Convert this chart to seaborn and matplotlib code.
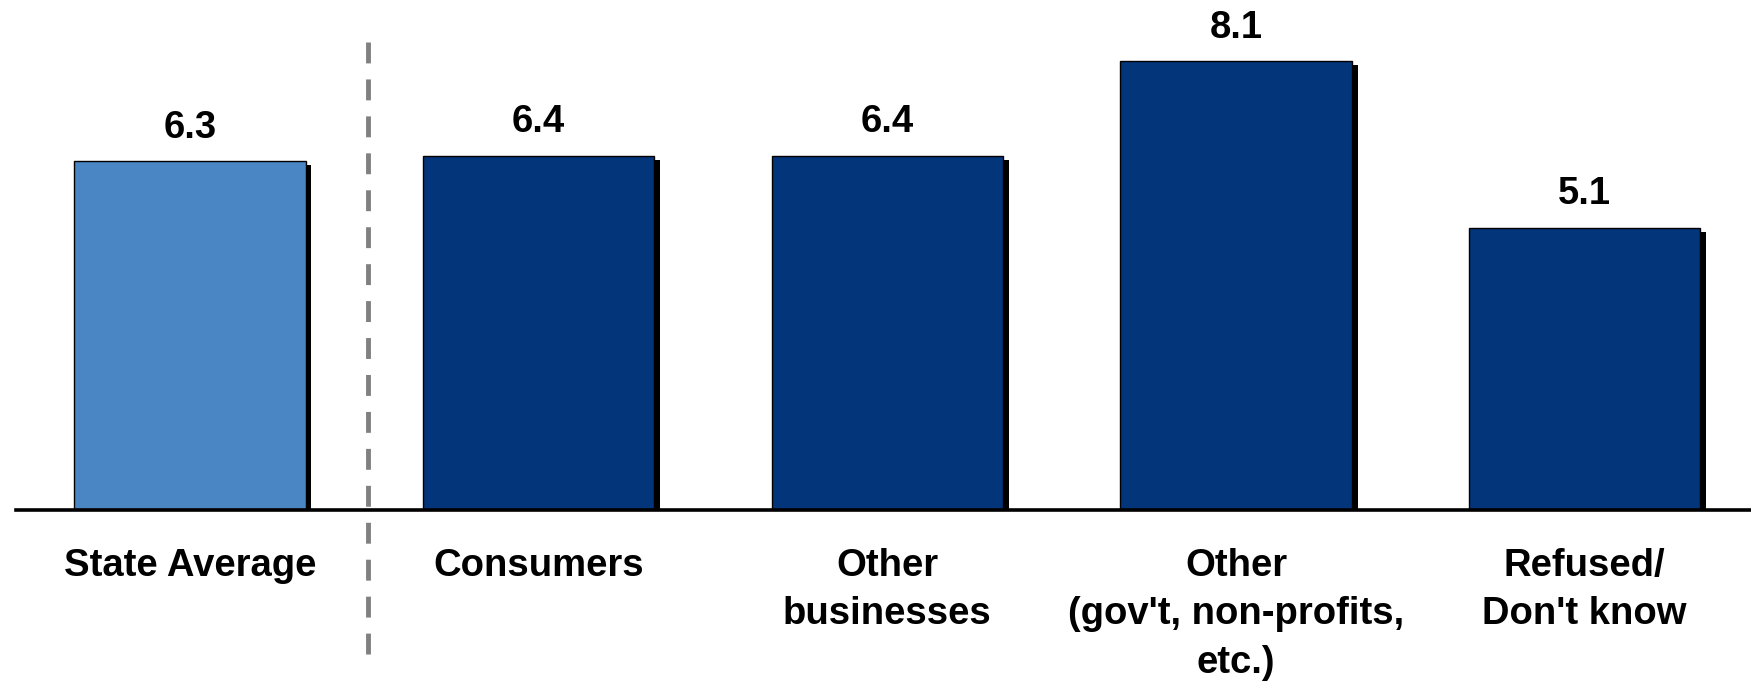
import matplotlib
matplotlib.use("Agg")
import matplotlib.pyplot as plt
import matplotlib.patheffects as pe
import seaborn as sns

categories = ["State Average", "Consumers", "Other\nbusinesses",
              "Other\n(gov't, non-profits,\netc.)", "Refused/\nDon't know"]
values = [6.3, 6.4, 6.4, 8.1, 5.1]
value_labels = ["6.3", "6.4", "6.4", "8.1", "5.1"]
bar_colors = ["#4a85c4", "#03357a", "#03357a", "#03357a", "#03357a"]

sns.set_theme(style="white")
plt.rcParams["font.family"] = ["Liberation Sans", "DejaVu Sans"]
plt.rcParams["font.weight"] = "bold"

fig = plt.figure(figsize=(17.51, 6.81), dpi=100)
ax = fig.add_axes([0.0089, 0.251, 0.9911, 0.732])

sns.barplot(x=categories, y=values, hue=categories, palette=bar_colors,
            width=0.663, edgecolor="black", linewidth=1.0, legend=False,
            saturation=1, ax=ax)

shadow = [pe.SimplePatchShadow(offset=(4.3, -2.9), shadow_rgbFace="black", alpha=1.0),
          pe.Normal()]
for patch in ax.patches:
    patch.set_path_effects(shadow)

for cont in ax.containers:
    ax.bar_label(cont, labels=[value_labels[categories.index(cont.get_label())]]
                 if cont.get_label() in categories else None,
                 padding=11, fontsize=27.5, fontweight="bold", color="black")

ax.set_xlim(-0.5, 4.477)
ax.set_ylim(0, 9)
ax.set_yticks([])
ax.set_xlabel("")
ax.set_ylabel("")
for side in ["left", "right", "top"]:
    ax.spines[side].set_visible(False)
ax.spines["bottom"].set_linewidth(2.6)
ax.spines["bottom"].set_color("black")
ax.spines["bottom"].set_zorder(5)
ax.tick_params(axis="x", length=0, pad=27, labelsize=27.5, labelcolor="black")
for lbl in ax.get_xticklabels():
    lbl.set_fontweight("bold")
    lbl.set_linespacing(1.45)

# separator between the state average and the breakdown
ax.plot([0.51, 0.51], [8.45, -2.69], color="#808080", linewidth=3.5,
        linestyle=(0, (4.3, 3.3)), clip_on=False, zorder=4)

fig.savefig("out.png", dpi=100)
